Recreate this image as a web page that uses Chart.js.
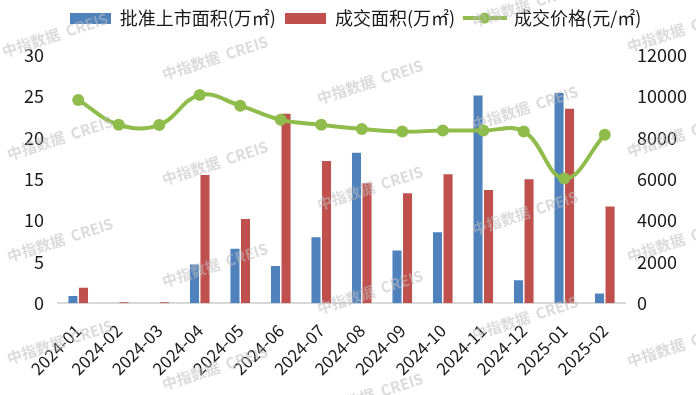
<!DOCTYPE html>
<html><head><meta charset="utf-8">
<script src="https://cdn.jsdelivr.net/npm/chart.js@4"></script>
<style>html,body{margin:0;padding:0;background:#fff;}#wrap{width:696px;height:395px;position:relative;}</style>
</head><body><div id="wrap"><canvas id="c"></canvas></div>
<script>
const categories = ['2024-01','2024-02','2024-03','2024-04','2024-05','2024-06','2024-07','2024-08','2024-09','2024-10','2024-11','2024-12','2025-01','2025-02'];
const approvedArea = [0.9, 0, 0, 4.7, 6.6, 4.5, 8.0, 18.2, 6.4, 8.6, 25.1, 2.8, 25.4, 1.2];
const soldArea = [1.9, 0.15, 0.15, 15.5, 10.2, 22.9, 17.2, 14.5, 13.3, 15.6, 13.7, 15.0, 23.5, 11.7];
const soldPrice = [9830, 8630, 8620, 10070, 9550, 8870, 8630, 8430, 8300, 8350, 8350, 8300, 6030, 8150];
const seriesNames = ['批准上市面积(万㎡)', '成交面积(万㎡)', '成交价格(元/㎡)'];
const leftAxis = {min: 0, max: 30, step: 5};
const rightAxis = {min: 0, max: 12000, step: 2000};
const watermarkText = '中指数据  CREIS';

const BLUE = '#4F81BD', RED = '#C0504D', GREEN = '#8FBC4A';
const FONT = '"Noto Sans CJK SC", "Noto Sans", sans-serif';

function rectIcon(color) {
  const c = document.createElement('canvas'); c.width = 41; c.height = 11;
  const x = c.getContext('2d'); x.fillStyle = color; x.fillRect(0, 0, 41, 11); return c;
}
function lineIcon(color) {
  const c = document.createElement('canvas'); c.width = 44; c.height = 12;
  const x = c.getContext('2d'); x.strokeStyle = color; x.lineWidth = 4;
  x.beginPath(); x.moveTo(0, 6); x.lineTo(44, 6); x.stroke();
  x.fillStyle = color; x.beginPath(); x.arc(22, 6, 5.5, 0, Math.PI * 2); x.fill(); return c;
}
const icons = [rectIcon(BLUE), rectIcon(RED), lineIcon(GREEN)];

const wmPositions = [
  [55,35],[215,58],[370,82],[525,5],[525,108],[680,30],
  [60,138],[215,163],[370,188],[525,213],[680,135],
  [60,240],[215,265],[370,292],[525,318],[680,240],
  [60,342],[215,368],[370,395],[680,345]
];
const watermark = {
  id: 'wm',
  afterDatasetsDraw(chart) {
    const ctx = chart.ctx; ctx.save();
    ctx.font = 'bold 15px ' + FONT; ctx.fillStyle = 'rgba(190,190,190,0.55)';
    ctx.textAlign = 'center'; ctx.textBaseline = 'middle';
    for (const [x, y] of wmPositions) {
      ctx.save(); ctx.translate(x, y); ctx.rotate(-18 * Math.PI / 180);
      ctx.fillText(watermarkText, 0, 0); ctx.restore();
    }
    ctx.restore();
  }
};
const legendSpace = {
  id: 'legendSpace',
  beforeInit(chart) {
    const lg = chart.legend;
    if (lg) { const f = lg.fit; lg.fit = function () { f.call(this); this.height += 18; }; }
  }
};

new Chart(document.getElementById('c'), {
  data: {
    labels: categories,
    datasets: [
      {type: 'bar', label: seriesNames[0], data: approvedArea, backgroundColor: BLUE, yAxisID: 'y', order: 1,
       categoryPercentage: 0.52, barPercentage: 0.86},
      {type: 'bar', label: seriesNames[1], data: soldArea, backgroundColor: RED, yAxisID: 'y', order: 1,
       categoryPercentage: 0.52, barPercentage: 0.86},
      {type: 'line', label: seriesNames[2], data: soldPrice, borderColor: GREEN, backgroundColor: GREEN, yAxisID: 'y1', order: 0,
       borderWidth: 4, pointRadius: 6, pointHoverRadius: 6, pointBackgroundColor: GREEN, pointBorderWidth: 0, tension: 0.4, fill: false}
    ]
  },
  options: {
    responsive: true, maintainAspectRatio: false, animation: false,
    layout: {padding: {left: 24, right: 9, top: 0, bottom: 13}},
    font: {family: FONT},
    plugins: {
      tooltip: {enabled: false},
      legend: {
        position: 'top', align: 'center',
        labels: {
          usePointStyle: true, pointStyleWidth: 41, boxHeight: 11, padding: 9,
          color: '#1a1a1a', font: {size: 18, family: FONT},
          sort: (a, b) => a.datasetIndex - b.datasetIndex,
          generateLabels(chart) {
            const items = Chart.defaults.plugins.legend.labels.generateLabels(chart);
            items.forEach(it => { it.pointStyle = icons[it.datasetIndex]; });
            return items;
          }
        }
      }
    },
    scales: {
      x: {
        offset: true,
        grid: {display: false, drawTicks: false},
        border: {display: true, color: '#d9d9d9', width: 2},
        ticks: {color: '#1a1a1a', font: {size: 17, family: FONT}, maxRotation: 45, minRotation: 45, autoSkip: false, padding: 17},
        afterFit(scale) { scale.paddingLeft = 0; scale.paddingRight = 0; scale.height -= 14; }
      },
      y: {
        position: 'left', min: leftAxis.min, max: leftAxis.max,
        grid: {display: false, drawTicks: false}, border: {display: false},
        ticks: {stepSize: leftAxis.step, color: '#1a1a1a', font: {size: 18, family: FONT}, padding: 14,
                callback: v => String(v)},
        afterFit(scale) { scale.width -= 14; }
      },
      y1: {
        position: 'right', min: rightAxis.min, max: rightAxis.max,
        grid: {display: false, drawTicks: false}, border: {display: false},
        ticks: {stepSize: rightAxis.step, color: '#1a1a1a', font: {size: 18, family: FONT}, padding: 12,
                callback: v => String(v)},
        afterFit(scale) { scale.width -= 12; }
      }
    }
  },
  plugins: [legendSpace, watermark]
});
</script></body></html>
